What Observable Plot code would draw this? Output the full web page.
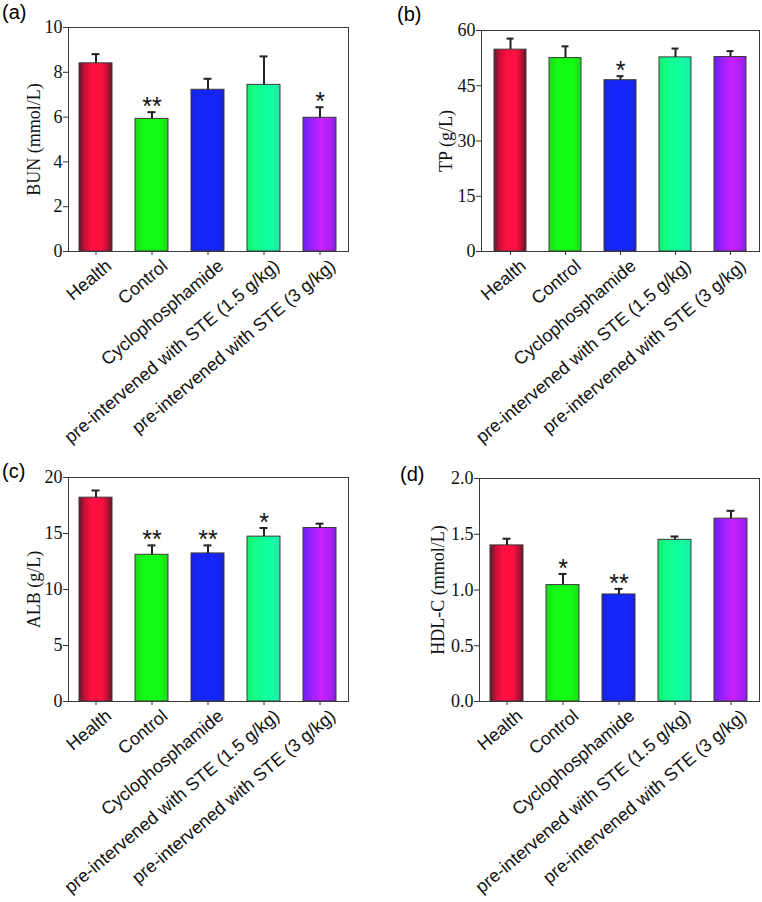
<!DOCTYPE html>
<html><head><meta charset="utf-8">
<script src="https://cdn.jsdelivr.net/npm/d3@7"></script>
<script src="https://cdn.jsdelivr.net/npm/@observablehq/plot@0.6"></script>
<style>
body{margin:0;background:#fff}
#fig{position:relative;width:762px;height:902px;overflow:hidden}
.panel{position:absolute}
.tag{position:absolute;font:20px "Liberation Sans",Arial,sans-serif;line-height:1;color:#000}
</style>
</head><body>
<svg width="0" height="0" style="position:absolute">
  <defs>
    <linearGradient id="g0" x1="0" x2="1" y1="0" y2="0">
      <stop offset="0" stop-color="#5c1a2c"/><stop offset="0.18" stop-color="#c81038"/>
      <stop offset="0.38" stop-color="#ff1040"/><stop offset="0.7" stop-color="#ff1040"/>
      <stop offset="0.88" stop-color="#b01034"/><stop offset="1" stop-color="#5c1a2c"/>
    </linearGradient>
    <linearGradient id="g1" x1="0" x2="1" y1="0" y2="0">
      <stop offset="0" stop-color="#1ed81e"/><stop offset="0.25" stop-color="#12fb12"/>
      <stop offset="0.75" stop-color="#12fb12"/><stop offset="1" stop-color="#1ed81e"/>
    </linearGradient>
    <linearGradient id="g2" x1="0" x2="1" y1="0" y2="0">
      <stop offset="0" stop-color="#1a22d8"/><stop offset="0.25" stop-color="#1426fa"/>
      <stop offset="0.75" stop-color="#1426fa"/><stop offset="1" stop-color="#1a22d8"/>
    </linearGradient>
    <linearGradient id="g3" x1="0" x2="1" y1="0" y2="0">
      <stop offset="0" stop-color="#14f070"/><stop offset="0.3" stop-color="#12ff8c"/>
      <stop offset="0.7" stop-color="#12ffa4"/><stop offset="1" stop-color="#20e8a8"/>
    </linearGradient>
    <linearGradient id="g4" x1="0" x2="1" y1="0" y2="0">
      <stop offset="0" stop-color="#6a22f0"/><stop offset="0.3" stop-color="#a020ff"/>
      <stop offset="0.55" stop-color="#c822ff"/><stop offset="0.8" stop-color="#b020f8"/>
      <stop offset="1" stop-color="#8a20e0"/>
    </linearGradient>
  </defs>
</svg>
<div id="fig"></div>
<script>
// ---- data ----
const groups = ["Health", "Control", "Cyclophosphamide", "pre-intervened with STE (1.5 g/kg)", "pre-intervened with STE (3 g/kg)"];
const barFills = ["url(#g0)", "url(#g1)", "url(#g2)", "url(#g3)", "url(#g4)"];

const bunMean = [8.40, 5.92, 7.22, 7.44, 5.97];
const bunErr  = [0.41, 0.30, 0.49, 1.27, 0.47];
const bunSig  = ["", "**", "", "", "*"];
const bunTicks = [0, 2, 4, 6, 8, 10];

const tpMean = [54.8, 52.5, 46.5, 52.7, 52.8];
const tpErr  = [3.0, 3.2, 1.1, 2.4, 1.6];
const tpSig  = ["", "", "*", "", ""];
const tpTicks = [0, 15, 30, 45, 60];

const albMean = [18.20, 13.10, 13.22, 14.72, 15.49];
const albErr  = [0.64, 0.84, 0.72, 0.77, 0.39];
const albSig  = ["", "**", "**", "*", ""];
const albTicks = [0, 5, 10, 15, 20];

const hdlMean = [1.40, 1.044, 0.96, 1.45, 1.64];
const hdlErr  = [0.06, 0.10, 0.05, 0.03, 0.07];
const hdlSig  = ["", "*", "**", "", ""];
const hdlTicks = [0, 0.5, 1.0, 1.5, 2.0];

const panels = [
  {tag: "(a)", label: "BUN (mmol/L)", mean: bunMean, err: bunErr, sig: bunSig, ticks: bunTicks, fmt: d3.format("d"),
   left: 0, top: 0, h: 440, m: [27, 33, 189, 68], ldx: -34, tagPos: [2, 2]},
  {tag: "(b)", label: "TP (g/L)", mean: tpMean, err: tpErr, sig: tpSig, ticks: tpTicks, fmt: d3.format("d"),
   left: 381, top: 0, h: 440, m: [30, 3, 189, 100], ldx: -35, tagPos: [397, 4]},
  {tag: "(c)", label: "ALB (g/L)", mean: albMean, err: albErr, sig: albSig, ticks: albTicks, fmt: d3.format("d"),
   left: 0, top: 440, h: 462, m: [37, 33, 201, 68], ldx: -34, tagPos: [2, 461]},
  {tag: "(d)", label: "HDL-C (mmol/L)", mean: hdlMean, err: hdlErr, sig: hdlSig, ticks: hdlTicks, fmt: d3.format(".1f"),
   left: 381, top: 440, h: 462, m: [38, 3, 201, 98], ldx: -41, tagPos: [400, 464]}
];

const serif = "'Liberation Serif','Times New Roman',serif";
const sans = "'Liberation Sans',Arial,sans-serif";
const fig = document.getElementById("fig");

for (const p of panels) {
  const rows = groups.map((g, i) => ({g, v: p.mean[i], top: p.mean[i] + p.err[i], sig: p.sig[i], fill: barFills[i]}));
  const [mt, mr, mb, ml] = p.m;
  const chart = Plot.plot({
    width: 381, height: p.h,
    marginTop: mt, marginRight: mr, marginBottom: mb, marginLeft: ml,
    style: {background: "transparent", overflow: "visible"},
    x: {domain: groups, paddingInner: 0.41, paddingOuter: 0.205, axis: null},
    y: {domain: [0, p.ticks[p.ticks.length - 1]], axis: null},
    color: {type: "identity"},
    marks: [
      Plot.barY(rows, {x: "g", y: "v", fill: "fill", stroke: "#3a3a3a", strokeWidth: 1}),
      Plot.ruleX(rows, {x: "g", y1: "v", y2: "top", stroke: "#222", strokeWidth: 2}),
      Plot.tickY(rows, {x: "g", y: "top", stroke: "#222", strokeWidth: 2, insetLeft: 12.5, insetRight: 12.5}),
      Plot.text(rows, {x: "g", y: "top", text: "sig", lineAnchor: "bottom", dy: 3, fontSize: 25, fontFamily: sans, fill: "#111"}),
      Plot.frame({stroke: "#3a3a3a", strokeWidth: 1}),
      Plot.axisY({ticks: p.ticks, tickFormat: () => "", tickSize: 5, label: null, stroke: "#333"}),
      Plot.text(p.ticks, {y: d => d, text: p.fmt, frameAnchor: "left", textAnchor: "end", lineAnchor: "middle",
                          dx: -6, fontSize: 18, fontFamily: serif, fill: "#111"}),
      Plot.axisX({tickSize: 4, tickFormat: () => "", label: null, stroke: "#333"}),
      Plot.text(groups, {x: d => d, frameAnchor: "bottom", rotate: -40, textAnchor: "end", lineAnchor: "middle",
                         dx: 13, dy: 12, fontSize: 18, fontFamily: sans, fill: "#111"}),
      Plot.text([p.label], {frameAnchor: "left", rotate: -90, dx: p.ldx, textAnchor: "middle", lineAnchor: "middle",
                            fontSize: 18, fontFamily: serif, fill: "#111"})
    ]
  });
  const div = document.createElement("div");
  div.className = "panel";
  div.style.left = p.left + "px";
  div.style.top = p.top + "px";
  div.appendChild(chart);
  fig.appendChild(div);
  const tag = document.createElement("div");
  tag.className = "tag";
  tag.textContent = p.tag;
  tag.style.left = p.tagPos[0] + "px";
  tag.style.top = p.tagPos[1] + "px";
  fig.appendChild(tag);
}
</script>
</body></html>
